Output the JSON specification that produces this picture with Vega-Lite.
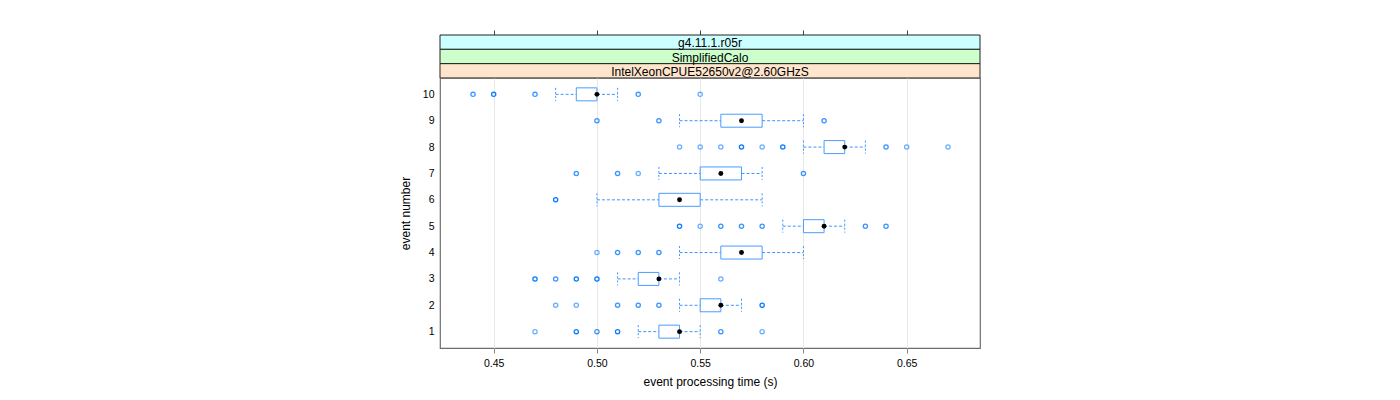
{
  "$schema": "https://vega.github.io/schema/vega-lite/v6.json",
  "padding": {"left": 398, "top": 29, "right": 5, "bottom": 5},
  "background": "white",
  "bounds": "flush",
  "config": {
    "font": "Liberation Sans",
    "view": {"stroke": "#6e6e6e", "strokeWidth": 1.2},
    "axis": {"labelFont": "Liberation Sans", "titleFont": "Liberation Sans", "labelColor": "black", "titleColor": "black", "titleFontWeight": "normal"}
  },
  "datasets": {
    "strips": [
      {"order": 1, "label": "g4.11.1.r05r"},
      {"order": 2, "label": "SimplifiedCalo"},
      {"order": 3, "label": "IntelXeonCPUE52650v2@2.60GHzS"}
    ],
    "stats": [
      {"event": 1, "lo": 0.52, "q1": 0.53, "med": 0.54, "q3": 0.54, "hi": 0.55},
      {"event": 2, "lo": 0.54, "q1": 0.55, "med": 0.56, "q3": 0.56, "hi": 0.57},
      {"event": 3, "lo": 0.51, "q1": 0.52, "med": 0.53, "q3": 0.53, "hi": 0.54},
      {"event": 4, "lo": 0.54, "q1": 0.56, "med": 0.57, "q3": 0.58, "hi": 0.60},
      {"event": 5, "lo": 0.59, "q1": 0.60, "med": 0.61, "q3": 0.61, "hi": 0.62},
      {"event": 6, "lo": 0.50, "q1": 0.53, "med": 0.54, "q3": 0.55, "hi": 0.58},
      {"event": 7, "lo": 0.53, "q1": 0.55, "med": 0.56, "q3": 0.57, "hi": 0.58},
      {"event": 8, "lo": 0.60, "q1": 0.61, "med": 0.62, "q3": 0.62, "hi": 0.63},
      {"event": 9, "lo": 0.54, "q1": 0.56, "med": 0.57, "q3": 0.58, "hi": 0.60},
      {"event": 10, "lo": 0.48, "q1": 0.49, "med": 0.50, "q3": 0.50, "hi": 0.51}
    ],
    "outliers": [
      {"event": 10, "value": 0.44, "n": 2}, {"event": 10, "value": 0.45, "n": 3}, {"event": 10, "value": 0.47, "n": 2}, {"event": 10, "value": 0.52, "n": 2}, {"event": 10, "value": 0.55, "n": 1},
      {"event": 9, "value": 0.50, "n": 2}, {"event": 9, "value": 0.53, "n": 2}, {"event": 9, "value": 0.61, "n": 2},
      {"event": 8, "value": 0.54, "n": 1}, {"event": 8, "value": 0.55, "n": 1}, {"event": 8, "value": 0.56, "n": 1}, {"event": 8, "value": 0.57, "n": 3}, {"event": 8, "value": 0.58, "n": 1}, {"event": 8, "value": 0.59, "n": 3}, {"event": 8, "value": 0.64, "n": 2}, {"event": 8, "value": 0.65, "n": 1}, {"event": 8, "value": 0.67, "n": 1},
      {"event": 7, "value": 0.49, "n": 2}, {"event": 7, "value": 0.51, "n": 2}, {"event": 7, "value": 0.52, "n": 1}, {"event": 7, "value": 0.60, "n": 2},
      {"event": 6, "value": 0.48, "n": 3},
      {"event": 5, "value": 0.54, "n": 3}, {"event": 5, "value": 0.55, "n": 1}, {"event": 5, "value": 0.56, "n": 2}, {"event": 5, "value": 0.57, "n": 2}, {"event": 5, "value": 0.58, "n": 2}, {"event": 5, "value": 0.63, "n": 2}, {"event": 5, "value": 0.64, "n": 2},
      {"event": 4, "value": 0.50, "n": 1}, {"event": 4, "value": 0.51, "n": 2}, {"event": 4, "value": 0.52, "n": 2}, {"event": 4, "value": 0.53, "n": 2},
      {"event": 3, "value": 0.47, "n": 3}, {"event": 3, "value": 0.48, "n": 2}, {"event": 3, "value": 0.49, "n": 3}, {"event": 3, "value": 0.50, "n": 3}, {"event": 3, "value": 0.56, "n": 1},
      {"event": 2, "value": 0.48, "n": 1}, {"event": 2, "value": 0.49, "n": 1}, {"event": 2, "value": 0.51, "n": 2}, {"event": 2, "value": 0.52, "n": 2}, {"event": 2, "value": 0.53, "n": 2}, {"event": 2, "value": 0.58, "n": 3},
      {"event": 1, "value": 0.47, "n": 1}, {"event": 1, "value": 0.49, "n": 3}, {"event": 1, "value": 0.50, "n": 2}, {"event": 1, "value": 0.51, "n": 3}, {"event": 1, "value": 0.56, "n": 2}, {"event": 1, "value": 0.58, "n": 1}
    ]
  },
  "spacing": 0,
  "resolve": {"scale": {"x": "independent", "y": "independent", "color": "independent"}, "axis": {"x": "independent"}},
  "vconcat": [
    {
      "width": 540,
      "height": 43,
      "data": {"name": "strips"},
      "view": {"stroke": null},
      "layer": [
        {
          "mark": {"type": "bar", "stroke": "#222222", "strokeWidth": 1},
          "encoding": {
            "x": {"datum": 0.424, "type": "quantitative", "scale": {"domain": [0.424, 0.6855], "nice": false, "zero": false, "padding": 0},
              "axis": {"orient": "top", "values": [0.45, 0.5, 0.55, 0.6, 0.65], "tickCount": 20, "labels": false, "ticks": true, "tickSize": 5, "tickColor": "#444444", "domain": false, "grid": false, "title": null}},
            "x2": {"datum": 0.6855},
            "y": {"field": "order", "type": "ordinal", "scale": {"paddingInner": 0, "paddingOuter": 0}, "axis": null},
            "color": {"field": "label", "type": "nominal", "legend": null,
              "scale": {"domain": ["g4.11.1.r05r", "SimplifiedCalo", "IntelXeonCPUE52650v2@2.60GHzS"], "range": ["#ccffff", "#ccffcc", "#ffe5cc"]}}
          }
        },
        {
          "mark": {"type": "text", "fontSize": 12, "color": "black", "baseline": "middle", "align": "center", "dy": 1},
          "encoding": {
            "x": {"datum": 0.55475, "type": "quantitative"},
            "y": {"field": "order", "type": "ordinal"},
            "text": {"field": "label"}
          }
        }
      ]
    },
    {
      "width": 540,
      "height": 270,
      "layer": [
        {
          "data": {"name": "stats"},
          "mark": {"type": "rule", "color": "#3d94ff", "strokeDash": [3, 2], "strokeWidth": 1},
          "encoding": {
            "x": {"field": "lo", "type": "quantitative",
              "scale": {"domain": [0.424, 0.6855], "nice": false, "zero": false, "padding": 0},
              "axis": {"orient": "bottom", "values": [0.45, 0.5, 0.55, 0.6, 0.65], "tickCount": 20, "format": ".2f", "title": "event processing time (s)",
                "labelFontSize": 10.5, "titleFontSize": 12, "tickSize": 5, "tickColor": "#888888", "domain": false,
                "grid": true, "gridColor": "#e8e8e8", "gridWidth": 1, "labelPadding": 5, "titlePadding": 8}},
            "x2": {"field": "q1"},
            "y": {"field": "event", "type": "quantitative",
              "scale": {"domain": [0.38, 10.62], "nice": false, "zero": false, "padding": 0},
              "axis": {"values": [1, 2, 3, 4, 5, 6, 7, 8, 9, 10], "tickCount": 20, "format": "d", "title": "event number", "labelFontSize": 10.5, "titleFontSize": 12,
                "labelOverlap": false, "labelFlush": false, "labelBaseline": "middle",
                "ticks": false, "domain": false, "grid": false, "labelPadding": 6, "titlePadding": 10}}
          }
        },
        {
          "data": {"name": "stats"},
          "mark": {"type": "rule", "color": "#3d94ff", "strokeDash": [3, 2], "strokeWidth": 1},
          "encoding": {
            "x": {"field": "q3", "type": "quantitative"},
            "x2": {"field": "hi"},
            "y": {"field": "event", "type": "quantitative"}
          }
        },
        {
          "data": {"name": "stats"},
          "mark": {"type": "rule", "color": "#3d94ff", "strokeWidth": 1, "strokeDash": [2, 2], "yOffset": -6.5, "y2Offset": 6.5},
          "encoding": {
            "x": {"field": "lo", "type": "quantitative"},
            "y": {"field": "event", "type": "quantitative"},
            "y2": {"field": "event"}
          }
        },
        {
          "data": {"name": "stats"},
          "mark": {"type": "rule", "color": "#3d94ff", "strokeWidth": 1, "strokeDash": [2, 2], "yOffset": -6.5, "y2Offset": 6.5},
          "encoding": {
            "x": {"field": "hi", "type": "quantitative"},
            "y": {"field": "event", "type": "quantitative"},
            "y2": {"field": "event"}
          }
        },
        {
          "data": {"name": "stats"},
          "mark": {"type": "bar", "orient": "horizontal", "size": 13, "fill": "white", "fillOpacity": 0, "stroke": "#4a9cff", "strokeWidth": 1},
          "encoding": {
            "x": {"field": "q1", "type": "quantitative"},
            "x2": {"field": "q3"},
            "y": {"field": "event", "type": "quantitative"}
          }
        },
        {
          "data": {"name": "outliers"},
          "mark": {"type": "point", "shape": "circle", "filled": false, "size": 18, "strokeWidth": 1.3, "color": "#0a7dff"},
          "encoding": {
            "x": {"field": "value", "type": "quantitative"},
            "y": {"field": "event", "type": "quantitative"},
            "opacity": {"field": "n", "type": "quantitative", "legend": null, "scale": {"domain": [1, 3], "range": [0.6, 1]}}
          }
        },
        {
          "data": {"name": "stats"},
          "mark": {"type": "point", "shape": "circle", "filled": true, "size": 24, "color": "black", "opacity": 1},
          "encoding": {
            "x": {"field": "med", "type": "quantitative"},
            "y": {"field": "event", "type": "quantitative"}
          }
        }
      ]
    }
  ]
}
